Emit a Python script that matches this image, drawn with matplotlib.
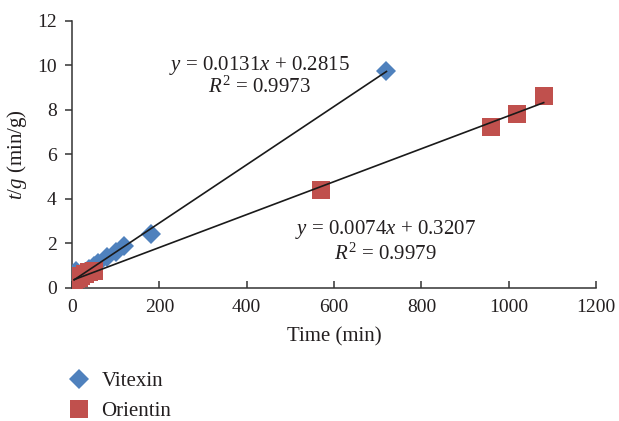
import matplotlib
matplotlib.use("Agg")
import matplotlib.pyplot as plt
import numpy as np

plt.rcParams['font.family'] = ['Liberation Serif', 'DejaVu Serif']
plt.rcParams['mathtext.fontset'] = 'custom'
plt.rcParams['mathtext.rm'] = 'Liberation Serif'
plt.rcParams['mathtext.it'] = 'Liberation Serif:italic'

# Vitexin / Orientin: time (min) vs t/g (min/g)
vit_time = [5, 10, 20, 30, 40, 50, 60, 80, 100, 120, 180, 720]
vit_tg = [0.62, 0.75, 0.58, 0.72, 0.85, 0.98, 1.12, 1.38, 1.62, 1.85, 2.42, 9.72]
ori_time = [5, 10, 15, 20, 30, 40, 50, 570, 960, 1020, 1080]
ori_tg = [0.3, 0.38, 0.45, 0.5, 0.6, 0.7, 0.76, 4.4, 7.22, 7.82, 8.62]

# linear fits (slope, intercept, R^2)
vit_fit = (0.0131, 0.2815, 0.9973)
ori_fit = (0.0074, 0.3207, 0.9979)

xticks = [0, 200, 400, 600, 800, 1000, 1200]
yticks = [0, 2, 4, 6, 8, 10, 12]

blue = '#4F81BD'
red = '#C0504D'
ink = '#231F20'
fs = 15

fig = plt.figure(figsize=(6.19, 4.21), dpi=100)
ax = fig.add_axes([0.1163, 0.317, 0.8467, 0.634])

ax.plot(vit_time, vit_tg, 'D', color=blue, markersize=10.5,
        markeredgewidth=0, label='Vitexin', zorder=3)
ax.plot(ori_time, ori_tg, 's', color=red, markersize=12.5,
        markeredgewidth=0, label='Orientin', zorder=3)

for xs, (m, b, r2) in [(vit_time, vit_fit), (ori_time, ori_fit)]:
    xl = np.array([min(xs), max(xs)])
    ax.plot(xl, m * xl + b, color='#1a1a1a', linewidth=1.2, zorder=4)

ax.text(430, 10.0, r'$y$ = %.4f$x$ + %.4f' % (vit_fit[0], vit_fit[1]),
        ha='center', va='center', fontsize=fs, color=ink)
ax.text(430, 9.0, r'$R^2$ = %.4f' % vit_fit[2],
        ha='center', va='center', fontsize=fs, color=ink)
ax.text(717, 2.6, r'$y$ = %.4f$x$ + %.4f' % (ori_fit[0], ori_fit[1]),
        ha='center', va='center', fontsize=fs, color=ink)
ax.text(717, 1.5, r'$R^2$ = %.4f' % ori_fit[2],
        ha='center', va='center', fontsize=fs, color=ink)

ax.set_xlim(0, 1200)
ax.set_ylim(0, 12)
ax.set_xticks(xticks)
ax.set_yticks(yticks)
for s in ['top', 'right']:
    ax.spines[s].set_visible(False)
for s in ['left', 'bottom']:
    ax.spines[s].set_color('#333333')
    ax.spines[s].set_linewidth(1.1)
ax.tick_params(axis='x', direction='in', length=5, width=1.1, color='#333333',
               labelsize=14, labelcolor=ink, pad=8)
ax.tick_params(axis='y', direction='out', length=5, width=1.1, color='#333333',
               labelsize=14, labelcolor=ink, pad=6)

ax.set_xlabel('Time (min)', fontsize=fs, color=ink, labelpad=8)
ax.set_ylabel(r'$t$/$g$ (min/g)', fontsize=fs, color=ink, labelpad=6)

fig.legend(loc='upper left', bbox_to_anchor=(0.11, 0.118), frameon=False,
           fontsize=fs, labelcolor=ink, handlelength=1.0, handletextpad=0.6,
           labelspacing=0.5, borderaxespad=0, borderpad=0)

fig.savefig('out.png', dpi=100)
